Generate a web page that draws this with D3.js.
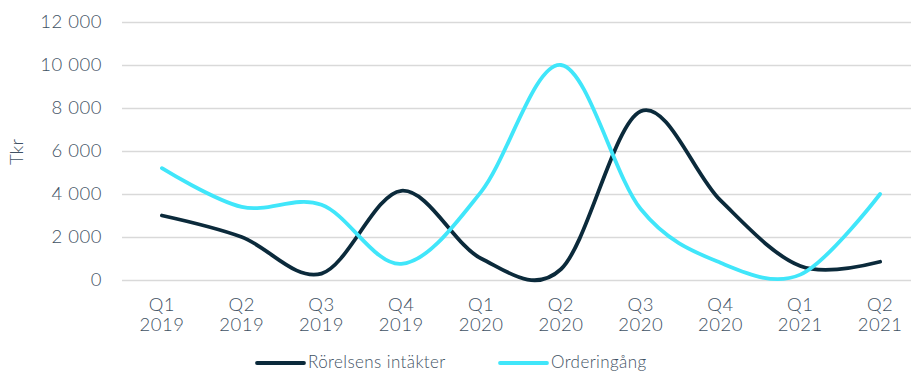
<!DOCTYPE html>
<html>
<head>
<meta charset="utf-8">
<script src="https://cdn.jsdelivr.net/npm/d3@7"></script>
<style>
  html, body { margin: 0; padding: 0; background: #fff; }
  svg { display: block; font-family: Lato, "Open Sans", sans-serif; font-weight: 300; }
</style>
</head>
<body>
<div id="chart"></div>
<script>
// quarterly data, Tkr
const quarters = ["Q1", "Q2", "Q3", "Q4", "Q1", "Q2", "Q3", "Q4", "Q1", "Q2"];
const years = ["2019", "2019", "2019", "2019", "2020", "2020", "2020", "2020", "2021", "2021"];
const intakter = [3000, 2000, 300, 4150, 1000, 500, 7850, 3700, 650, 850];
const orderingang = [5200, 3400, 3500, 750, 4100, 10000, 3300, 800, 250, 4000];
const yTicks = [0, 2000, 4000, 6000, 8000, 10000, 12000];

const series = [
  { name: "Rörelsens intäkter", values: intakter, color: "#0b2a3b" },
  { name: "Orderingång", values: orderingang, color: "#40e6fa" }
];

const W = 911, H = 372;
const margin = { top: 22, left: 122, bottom: 92 };
const plotW = 798;
const plotH = H - margin.top - margin.bottom;
const textColor = "#3f5264";
const fontSize = "18.5px";

const svg = d3.select("#chart").append("svg")
  .attr("width", W).attr("height", H);

const g = svg.append("g")
  .attr("transform", `translate(${margin.left},${margin.top})`);

const x = d3.scaleBand()
  .domain(d3.range(quarters.length))
  .range([0, plotW]);

const y = d3.scaleLinear()
  .domain([0, 12000])
  .range([plotH, 0]);

// gridlines + y labels
const yAxis = g.append("g")
  .call(d3.axisLeft(y).tickValues(yTicks).tickSize(0).tickPadding(20)
    .tickFormat(d => d3.format(",")(d).replace(",", " ")))
  .attr("font-family", null)
  .attr("font-size", null);
yAxis.select(".domain").remove();
yAxis.selectAll(".tick line").clone()
  .attr("x2", plotW)
  .attr("stroke", "#d9d9d9")
  .attr("stroke-width", 1.3);
yAxis.selectAll(".tick text")
  .attr("fill", textColor)
  .attr("font-size", fontSize)
  .attr("letter-spacing", "0.5px");

// x labels, two lines
const xAxis = g.append("g")
  .attr("transform", `translate(0,${plotH})`)
  .call(d3.axisBottom(x).tickSize(0).tickFormat(""))
  .attr("font-family", null)
  .attr("font-size", null);
xAxis.select(".domain").remove();
xAxis.selectAll(".tick").each(function(d) {
  const t = d3.select(this).append("text")
    .attr("fill", textColor)
    .attr("font-size", fontSize)
    .attr("letter-spacing", "0.5px")
    .attr("text-anchor", "middle");
  t.append("tspan").attr("x", 0).attr("y", 31).text(quarters[d]);
  t.append("tspan").attr("x", 0).attr("y", 51).text(years[d]);
});

// y axis title
g.append("text")
  .attr("transform", "rotate(-90)")
  .attr("x", -(152 - margin.top))
  .attr("y", -99)
  .attr("text-anchor", "middle")
  .attr("fill", textColor)
  .attr("font-size", fontSize)
  .text("Tkr");

// smoothed lines
const line = d3.line()
  .x((d, i) => x(i) + x.bandwidth() / 2)
  .y(d => y(d))
  .curve(d3.curveCardinal.tension(0));

series.forEach(s => {
  g.append("path")
    .datum(s.values)
    .attr("fill", "none")
    .attr("stroke", s.color)
    .attr("stroke-width", 3.8)
    .attr("stroke-linecap", "round")
    .attr("d", line);
});

// legend
const legendX = [257, 500];
series.forEach((s, i) => {
  const lg = svg.append("g").attr("transform", `translate(${legendX[i]},363)`);
  lg.append("line")
    .attr("x1", 0).attr("x2", 47)
    .attr("stroke", s.color)
    .attr("stroke-width", 3.8)
    .attr("stroke-linecap", "round");
  lg.append("text")
    .attr("x", 51).attr("y", 5)
    .attr("fill", textColor)
    .attr("font-size", "17px")
    .attr("letter-spacing", "0.4px")
    .text(s.name);
});
</script>
</body>
</html>
